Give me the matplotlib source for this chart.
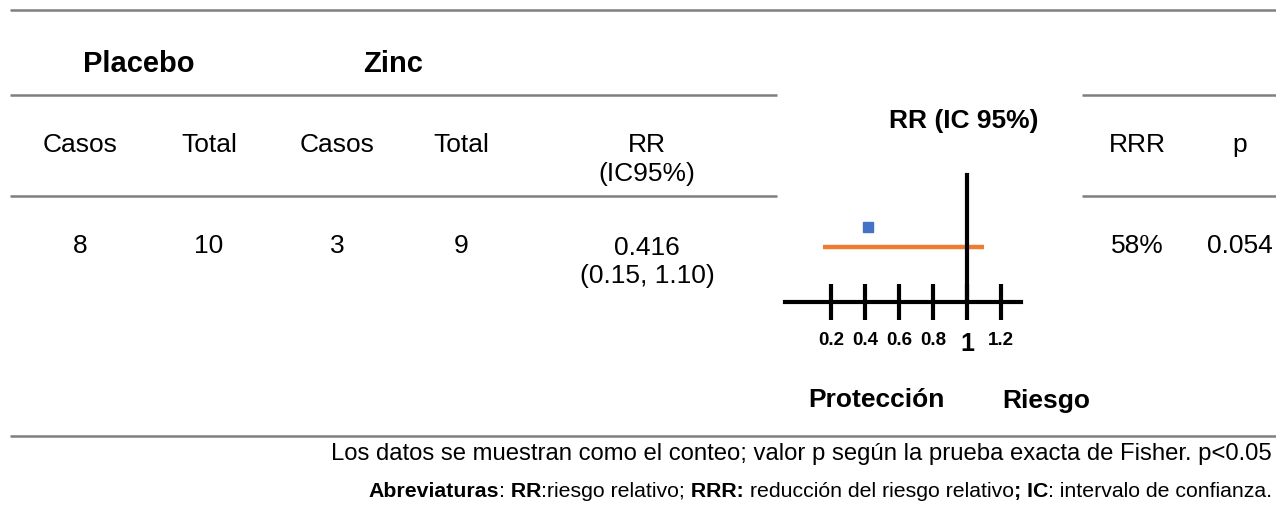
import matplotlib
matplotlib.use("Agg")
import matplotlib.pyplot as plt

plt.rcParams['font.family'] = ['Liberation Sans', 'DejaVu Sans']

# table contents
groups = ["Placebo", "Zinc"]
col_heads = ["Casos", "Total", "Casos", "Total"]
counts = [8, 10, 3, 9]
rr_head = ["RR", "(IC95%)"]
rr = 0.416
ci_lo, ci_hi = 0.15, 1.10
rrr = "58%"
p_value = "0.054"

# forest axis
ticks = [0.2, 0.4, 0.6, 0.8, 1.0, 1.2]
tick_labels = ["0.2", "0.4", "0.6", "0.8", "1", "1.2"]
null_value = 1.0

W, H = 1276, 508
fig = plt.figure(figsize=(W / 100, H / 100), dpi=100)
ax = fig.add_axes([0, 0, 1, 1])
ax.set_xlim(0, W)
ax.set_ylim(H, 0)
ax.axis('off')

rule = dict(color='#7f7f7f', lw=1.8, solid_capstyle='butt')
ax.plot([10, W], [10, 10], **rule)
for y in (95, 196):
    ax.plot([10, 777], [y, y], **rule)
    ax.plot([1082, W], [y, y], **rule)
ax.plot([10, W], [436, 436], **rule)

fs = 19
col_x = [80, 209, 337, 461]
for g, gx in zip(groups, [139, 393]):
    ax.text(gx, 72, g, fontsize=21, fontweight='bold', ha='center', va='baseline')
for head, cx in zip(col_heads, col_x):
    ax.text(cx, 152, head, fontsize=fs, ha='center', va='baseline')
for n, cx in zip(counts, col_x):
    ax.text(cx, 253, str(n), fontsize=fs, ha='center', va='baseline')

ax.text(647, 152, rr_head[0], fontsize=fs, ha='center', va='baseline')
ax.text(647, 181, rr_head[1], fontsize=fs, ha='center', va='baseline')
ax.text(647, 255, f"{rr:.3f}", fontsize=fs, ha='center', va='baseline')
ax.text(647, 283, f"({ci_lo:.2f}, {ci_hi:.2f})", fontsize=fs, ha='center', va='baseline')

ax.text(1137, 152, "RRR", fontsize=fs, ha='center', va='baseline')
ax.text(1240, 152, "p", fontsize=fs, ha='center', va='baseline')
ax.text(1137, 253, rrr, fontsize=fs, ha='center', va='baseline')
ax.text(1240, 253, p_value, fontsize=fs, ha='center', va='baseline')

# forest plot
ax.text(964, 128, "RR (IC 95%)", fontsize=19, fontweight='bold', ha='center', va='baseline')
ax.text(876, 407, "Protección", fontsize=19, fontweight='bold', ha='center', va='baseline')
ax.text(1046, 408, "Riesgo", fontsize=19, fontweight='bold', ha='center', va='baseline')

left, right, top, bottom = 785, 1021, 175, 302
fx = fig.add_axes([left / W, 1 - bottom / H, (right - left) / W, (bottom - top) / H])
fx.patch.set_alpha(0)
px_per_unit = 170.0
fx.set_xlim(null_value - (967 - left) / px_per_unit, null_value + (right - 967) / px_per_unit)
fx.set_ylim(0, 1)
for s in ('top', 'left', 'right'):
    fx.spines[s].set_visible(False)
fx.spines['bottom'].set_linewidth(3)
fx.set_yticks([])
fx.set_xticks(ticks)
fx.set_xticklabels(tick_labels)
fx.tick_params(axis='x', direction='inout', length=26.6, width=3, pad=8.5, labelsize=13.5)
for lbl in fx.get_xticklabels():
    lbl.set_fontweight('bold')
    if lbl.get_text() == "1":
        lbl.set_fontsize(18)

fx.plot([ci_lo, ci_hi], [0.43, 0.43], color='#ED7D31', lw=3.2, solid_capstyle='butt', zorder=2)
fx.plot([rr], [0.59], marker='s', ms=7.5, color='#4472C4', zorder=2)
fx.axvline(null_value, color='black', lw=3, zorder=3, clip_on=False)

# footnotes
ax.text(1272, 460, "Los datos se muestran como el conteo; valor p según la prueba exacta de Fisher. p<0.05",
        fontsize=17.2, ha='right', va='baseline')

abbrev = [("Abreviaturas", 'bold'), (":", 'normal'), (" RR", 'bold'),
          (":riesgo relativo;", 'normal'), (" RRR:", 'bold'),
          (" reducción del riesgo relativo", 'normal'), ("; IC", 'bold'),
          (": intervalo de confianza.", 'normal')]
fs_note = 15.3
prev = ax.text(1272, 497, abbrev[-1][0], fontsize=fs_note, fontweight=abbrev[-1][1],
               ha='right', va='baseline')
for piece, weight in reversed(abbrev[:-1]):
    prev = ax.annotate(piece, xy=(0, 0), xycoords=prev, fontsize=fs_note, fontweight=weight,
                       ha='right', va='bottom')

fig.savefig('out.png', dpi=100)
